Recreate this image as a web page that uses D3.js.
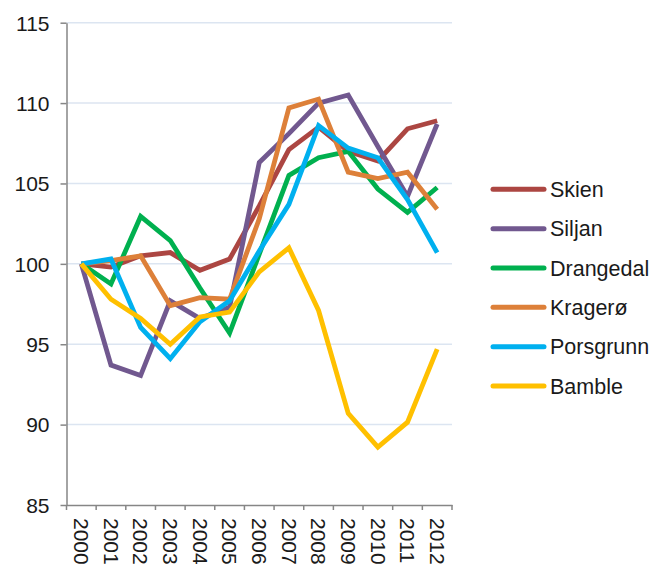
<!DOCTYPE html>
<html lang="no">
<head>
<meta charset="UTF-8">
<title>Indeks 2000 = 100</title>
<script src="https://cdnjs.cloudflare.com/ajax/libs/d3/7.8.5/d3.min.js"></script>
<style>
    body { margin: 0; background: #fff; font-family: "Liberation Sans", Arial, sans-serif; }
    .axis text { font-size: 21px; fill: #1a1a1a; font-family: "Liberation Sans", Arial, sans-serif; }
    .axis path, .axis line { stroke: #868686; stroke-width: 1.5px; }
    .grid line { stroke: #dce5f1; stroke-width: 1.5px; }
    .serie { fill: none; stroke-width: 4.8px; stroke-linejoin: miter; stroke-linecap: butt; }
    .legend text { font-size: 21.5px; fill: #1a1a1a; }
</style>
</head>
<body>
<svg width="651" height="565"></svg>
<script>
    // years on the x axis
    const years = ["2000","2001","2002","2003","2004","2005","2006","2007","2008","2009","2010","2011","2012"];
    const yTicks = [85, 90, 95, 100, 105, 110, 115];

    // index values per municipality (2000 = 100)
    const skien     = [100, 99.8, 100.5, 100.7, 99.6, 100.3, 103.6, 107.1, 108.5, 107.0, 106.4, 108.4, 108.9];
    const siljan    = [100, 93.7, 93.05, 97.7, 96.6, 97.3, 106.3, 108.1, 110.0, 110.5, 107.3, 104.2, 108.7];
    const drangedal = [100, 98.75, 102.95, 101.45, 98.5, 95.7, 100.6, 105.5, 106.6, 107.0, 104.65, 103.2, 104.75];
    const kragero   = [100, 100.2, 100.5, 97.4, 97.9, 97.8, 102.8, 109.7, 110.25, 105.7, 105.3, 105.7, 103.4];
    const porsgrunn = [100, 100.3, 96.05, 94.1, 96.4, 97.7, 100.8, 103.7, 108.6, 107.2, 106.6, 104.0, 100.7];
    const bamble    = [100, 97.8, 96.6, 95.0, 96.7, 97.0, 99.5, 101.0, 97.1, 90.7, 88.6, 90.15, 94.7];

    const names  = ["Skien", "Siljan", "Drangedal", "Kragerø", "Porsgrunn", "Bamble"];
    const colors = ["#ac4642", "#71588f", "#00b04f", "#dd8039", "#00b0ef", "#ffc000"];
    const values = [skien, siljan, drangedal, kragero, porsgrunn, bamble];

    const svg = d3.select("svg");

    let x = d3.scaleBand().domain(years).range([66.5, 452]);
    let y = d3.scaleLinear().domain([85, 115]).range([505, 22.7]);
    const xc = d => x(d) + x.bandwidth() / 2;

    // horizontal grid
    svg.append("g").attr("class", "grid")
        .selectAll("line")
        .data(yTicks.filter(t => t > 85))
        .enter().append("line")
        .attr("x1", x.range()[0]).attr("x2", x.range()[1])
        .attr("y1", d => y(d)).attr("y2", d => y(d));

    // y axis
    let yAxis = svg.append("g").attr("class", "axis")
        .attr("transform", `translate(${x.range()[0]},0)`)
        .call(d3.axisLeft(y).tickValues(yTicks).tickSize(6).tickSizeOuter(0).tickPadding(11));
    yAxis.selectAll("text").attr("dy", "0.35em");

    // x axis: labels at centres, ticks on the band edges
    let xAxis = svg.append("g").attr("class", "axis")
        .attr("transform", `translate(0,${y(85)})`)
        .call(d3.axisBottom(x).tickSize(0).tickSizeOuter(0));
    xAxis.selectAll("text")
        .attr("transform", "rotate(90)")
        .attr("x", 13).attr("y", 0).attr("dy", "0.35em")
        .style("text-anchor", "start");
    xAxis.selectAll(".edge")
        .data(years.concat(["end"]))
        .enter().append("line")
        .attr("class", "edge")
        .attr("x1", d => d === "end" ? x.range()[1] : x(d))
        .attr("x2", d => d === "end" ? x.range()[1] : x(d))
        .attr("y1", 0).attr("y2", 5);

    // series
    let line = d3.line().x((d, i) => xc(years[i])).y(d => y(d));
    svg.append("g").selectAll("path")
        .data(values)
        .enter().append("path")
        .attr("class", "serie")
        .attr("stroke", (d, i) => colors[i])
        .attr("d", d => line(d));

    // legend
    let legend = svg.append("g").attr("class", "legend")
        .selectAll("g")
        .data(names)
        .enter().append("g")
        .attr("transform", (d, i) => `translate(491,${189.3 + i * 39.35})`);
    legend.append("line")
        .attr("x1", 2).attr("x2", 53)
        .attr("stroke", (d, i) => colors[i])
        .attr("stroke-width", 5)
        .attr("stroke-linecap", "round");
    legend.append("text")
        .attr("x", 59).attr("dy", "0.35em")
        .text(d => d);
</script>
</body>
</html>
